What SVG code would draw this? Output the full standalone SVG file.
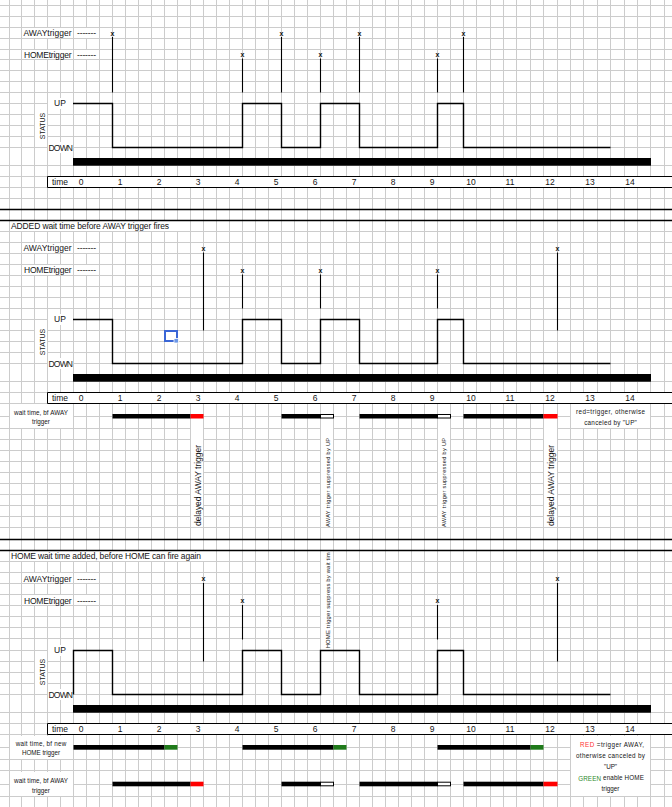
<svg xmlns="http://www.w3.org/2000/svg" width="672" height="807" viewBox="0 0 672 807">
<style>
.g{stroke:#cccccc;stroke-width:1;fill:none}
.w{fill:#fff}
.t{font-family:"Liberation Sans",Arial,sans-serif;font-size:8.5px;fill:#141414;dominant-baseline:central}
.st{font-family:"Liberation Sans",Arial,sans-serif;font-size:7px;fill:#141414;dominant-baseline:central;text-anchor:middle}
.s{font-family:"Liberation Sans",Arial,sans-serif;font-size:6.3px;fill:#141414;dominant-baseline:central;text-anchor:middle}
.x{font-family:"Liberation Sans",Arial,sans-serif;font-size:7px;font-weight:bold;fill:#111;dominant-baseline:central;text-anchor:middle}
.m{text-anchor:middle}
.wave{fill:none;stroke:#000;stroke-width:1.4}
.trig{stroke:#000;stroke-width:1.1;fill:none}
.sep{stroke:#000;stroke-width:1.4}
.blk{fill:#000}
.red{fill:#ff0000}
.grn{fill:#1f7a1a}
.wb{fill:#fff;stroke:#000;stroke-width:1}
</style>
<rect width="672" height="807" fill="#fff"/>
<g id="grid">
<path class="g" d="M9.5 0V807M21.5 0V807M34.5 0V807M47.5 0V807M60.5 0V807M73.5 0V807M86.5 0V807M99.5 0V807M112.5 0V807M125.5 0V807M138.5 0V807M151.5 0V807M164.5 0V807M177.5 0V807M190.5 0V807M203.5 0V807M216.5 0V807M229.5 0V807M242.5 0V807M255.5 0V807M268.5 0V807M281.5 0V807M294.5 0V807M307.5 0V807M320.5 0V807M333.5 0V807M346.5 0V807M359.5 0V807M372.5 0V807M385.5 0V807M398.5 0V807M411.5 0V807M424.5 0V807M437.5 0V807M450.5 0V807M463.5 0V807M476.5 0V807M490.5 0V807M503.5 0V807M516.5 0V807M530.5 0V807M543.5 0V807M557.5 0V807M570.5 0V807M583.5 0V807M597.5 0V807M610.5 0V807M624.5 0V807M637.5 0V807M650.5 0V807M664.5 0V807"/>
<path class="g" d="M0 5.5H672M0 16.5H672M0 27.5H672M0 38.5H672M0 49.5H672M0 59.5H672M0 70.5H672M0 81.5H672M0 92.5H672M0 103.5H672M0 114.5H672M0 125.5H672M0 136.5H672M0 147.5H672M0 165.5H672M0 176.5H672M0 187.5H672M0 198.5H672M0 231.5H672M0 242.5H672M0 253.5H672M0 264.5H672M0 275.5H672M0 286.5H672M0 297.5H672M0 308.5H672M0 319.5H672M0 330.5H672M0 341.5H672M0 352.5H672M0 363.5H672M0 381.5H672M0 392.5H672M0 403.5H672M0 416.5H672M0 428.5H672M0 439.5H672M0 450.5H672M0 461.5H672M0 472.5H672M0 483.5H672M0 494.5H672M0 505.5H672M0 516.5H672M0 527.5H672M0 561.5H672M0 572.5H672M0 583.5H672M0 594.5H672M0 605.5H672M0 616.5H672M0 627.5H672M0 638.5H672M0 650.5H672M0 661.5H672M0 672.5H672M0 683.5H672M0 694.5H672M0 712.5H672M0 723.5H672M0 734.5H672M0 747.5H672M0 759.5H672M0 770.5H672M0 784.5H672M0 796.5H672"/>
</g>
<g id="masks">
<rect class="w" x="22" y="28" width="51" height="10"/><rect class="w" x="74" y="28" width="25" height="10"/>
<rect class="w" x="22" y="50" width="51" height="9"/><rect class="w" x="74" y="50" width="25" height="9"/>
<rect class="w" x="35" y="105" width="12" height="42"/>
<rect class="w" x="48" y="98" width="25" height="11"/><rect class="w" x="48" y="142" width="25" height="11"/>
<rect class="w" x="10" y="221" width="168" height="10"/>
<rect class="w" x="22" y="243" width="51" height="10"/><rect class="w" x="74" y="243" width="25" height="10"/>
<rect class="w" x="22" y="265" width="51" height="10"/><rect class="w" x="74" y="265" width="25" height="10"/>
<rect class="w" x="35" y="321" width="12" height="42"/>
<rect class="w" x="48" y="314" width="25" height="11"/><rect class="w" x="48" y="358" width="25" height="11"/>
<rect class="w" x="10" y="404" width="63" height="24"/>
<rect class="w" x="571" y="404" width="79" height="24"/>
<rect class="w" x="191" y="419" width="12" height="108"/>
<rect class="w" x="321" y="419" width="12" height="108"/>
<rect class="w" x="438" y="419" width="12" height="108"/>
<rect class="w" x="544" y="419" width="13" height="108"/>
<rect class="w" x="10" y="551" width="200" height="10"/>
<rect class="w" x="321" y="551" width="12" height="99"/>
<rect class="w" x="22" y="573" width="51" height="10"/><rect class="w" x="74" y="573" width="25" height="10"/>
<rect class="w" x="22" y="595" width="51" height="10"/><rect class="w" x="74" y="595" width="25" height="10"/>
<rect class="w" x="35" y="652" width="12" height="42"/>
<rect class="w" x="48" y="645" width="25" height="11"/><rect class="w" x="48" y="689" width="25" height="11"/>
<rect class="w" x="10" y="736" width="63" height="23"/>
<rect class="w" x="10" y="772" width="63" height="24"/>
<rect class="w" x="571" y="736" width="79" height="60"/>
</g>
<g id="separators">
<line class="sep" x1="0" y1="209.5" x2="672" y2="209.5"/>
<line class="sep" x1="0" y1="220.5" x2="672" y2="220.5"/>
<line class="sep" x1="0" y1="539.5" x2="672" y2="539.5"/>
<line class="sep" x1="0" y1="550.5" x2="672" y2="550.5"/>
</g>
<g id="section1">
<text class="t" x="23.5" y="33" textLength="48">AWAYtrigger</text>
<text class="t" x="77" y="33" textLength="19">-------</text>
<text class="t" x="24" y="54.5" textLength="47.5">HOMEtrigger</text>
<text class="t" x="77" y="54.5" textLength="19">-------</text>
<text class="t m" x="60" y="103">UP</text>
<text class="t" x="48.5" y="147.5" textLength="24.5">DOWN</text>
<text class="st" transform="translate(42 126) rotate(-90)">STATUS</text>
<g class="x"><text x="112.5" y="33">x</text><text x="281.5" y="33">x</text><text x="359.5" y="33">x</text><text x="463.5" y="33">x</text><text x="242.5" y="54.5">x</text><text x="320.5" y="54.5">x</text><text x="437.5" y="54.5">x</text></g>
<path class="trig" d="M112.5 37V92.5M281.5 37V92.5M359.5 37V92.5M463.5 37V92.5M242.5 58.5V92.5M320.5 58.5V92.5M437.5 58.5V92.5"/>
<polyline class="wave" points="73,103.5 112.5,103.5 112.5,147.5 242.5,147.5 242.5,103.5 281.5,103.5 281.5,147.5 320.5,147.5 320.5,103.5 359.5,103.5 359.5,147.5 437.5,147.5 437.5,103.5 463.5,103.5 463.5,147.5 610.5,147.5"/>
<rect class="blk" x="73" y="158" width="578" height="7.7"/>
<rect class="w" x="47.5" y="176.5" width="625" height="11"/>
<path stroke="#000" stroke-width="1" fill="none" d="M672 176.5H47.5V187.5H672"/>
<g class="t m"><text x="60" y="182">time</text><text x="81" y="182">0</text><text x="120" y="182">1</text><text x="159" y="182">2</text><text x="198" y="182">3</text><text x="237" y="182">4</text><text x="276" y="182">5</text><text x="315" y="182">6</text><text x="354" y="182">7</text><text x="393" y="182">8</text><text x="432" y="182">9</text><text x="471" y="182">10</text><text x="510" y="182">11</text><text x="550" y="182">12</text><text x="590" y="182">13</text><text x="630" y="182">14</text></g>
</g>
<g id="section2">
<text class="t" x="11" y="226" textLength="158">ADDED wait time before AWAY trigger fires</text>
<text class="t" x="23.5" y="248" textLength="48">AWAYtrigger</text>
<text class="t" x="77" y="248" textLength="19">-------</text>
<text class="t" x="24" y="270" textLength="47.5">HOMEtrigger</text>
<text class="t" x="77" y="270" textLength="19">-------</text>
<text class="t m" x="60" y="319">UP</text>
<text class="t" x="48.5" y="364" textLength="24.5">DOWN</text>
<text class="st" transform="translate(42 342) rotate(-90)">STATUS</text>
<g class="x"><text x="203.5" y="248">x</text><text x="557.5" y="248">x</text><text x="242.5" y="270">x</text><text x="320.5" y="270">x</text><text x="437.5" y="270">x</text></g>
<path class="trig" d="M203.5 252.5V330.5M557.5 252.5V330.5M242.5 274.5V308.5M320.5 274.5V308.5M437.5 274.5V308.5"/>
<polyline class="wave" points="73,319.5 112.5,319.5 112.5,363.5 242.5,363.5 242.5,319.5 281.5,319.5 281.5,363.5 320.5,363.5 320.5,319.5 359.5,319.5 359.5,363.5 437.5,363.5 437.5,319.5 463.5,319.5 463.5,363.5 610.5,363.5"/>
<rect x="165" y="331" width="12" height="10" fill="none" stroke="#3a66d6" stroke-width="2"/>
<rect x="174" y="338.5" width="4.5" height="4.5" fill="#6c97e6" stroke="#fff" stroke-width="0.8"/>
<rect class="blk" x="73" y="374" width="578" height="7.7"/>
<rect class="w" x="47.5" y="392.5" width="625" height="11"/>
<path stroke="#000" stroke-width="1" fill="none" d="M672 392.5H47.5V403.5H672"/>
<g class="t m"><text x="60" y="398">time</text><text x="81" y="398">0</text><text x="120" y="398">1</text><text x="159" y="398">2</text><text x="198" y="398">3</text><text x="237" y="398">4</text><text x="276" y="398">5</text><text x="315" y="398">6</text><text x="354" y="398">7</text><text x="393" y="398">8</text><text x="432" y="398">9</text><text x="471" y="398">10</text><text x="510" y="398">11</text><text x="550" y="398">12</text><text x="590" y="398">13</text><text x="630" y="398">14</text></g>
<text class="s" x="41" y="412.5" textLength="54">wait time, bf AWAY</text>
<text class="s" x="41" y="421.5">trigger</text>
<rect class="blk" x="112.5" y="414" width="78" height="4.5"/><rect class="red" x="190.5" y="414" width="13" height="4.5"/>
<rect class="blk" x="281.5" y="414" width="39" height="4.5"/><rect class="wb" x="320.5" y="414.5" width="13" height="3.5"/>
<rect class="blk" x="359.5" y="414" width="78" height="4.5"/><rect class="wb" x="437.5" y="414.5" width="13" height="3.5"/>
<rect class="blk" x="463.5" y="414" width="80" height="4.5"/><rect class="red" x="543.5" y="414" width="14" height="4.5"/>
<text class="s" x="610.5" y="411.7" textLength="69">red=trigger, otherwise</text>
<text class="s" x="610.5" y="422.7" textLength="52.7">canceled by "UP"</text>
<text class="t m" transform="translate(197.5 485.5) rotate(-90)" textLength="81">delayed AWAY trigger</text>
<text class="t m" style="font-size:5.6px" transform="translate(327.5 482.5) rotate(-90)" textLength="89">AWAY trigger suppressed by UP</text>
<text class="t m" style="font-size:5.6px" transform="translate(444 482.5) rotate(-90)" textLength="89">AWAY trigger suppressed by UP</text>
<text class="t m" transform="translate(550.5 485.5) rotate(-90)" textLength="81">delayed AWAY trigger</text>
</g>
<g id="section3">
<text class="t" x="11" y="556" textLength="190">HOME wait time added, before HOME can fire again</text>
<text class="t" style="font-size:5.9px" transform="translate(327.5 648.3) rotate(-90)" textLength="96">HOME trigger suppress by wait tim</text>
<text class="t" x="23.5" y="578.5" textLength="48">AWAYtrigger</text>
<text class="t" x="77" y="578.5" textLength="19">-------</text>
<text class="t" x="24" y="600.5" textLength="47.5">HOMEtrigger</text>
<text class="t" x="77" y="600.5" textLength="19">-------</text>
<text class="t m" x="60" y="650">UP</text>
<text class="t" x="48.5" y="694.5" textLength="24.5">DOWN</text>
<text class="st" transform="translate(42 672) rotate(-90)">STATUS</text>
<g class="x"><text x="203.5" y="578.5">x</text><text x="557.5" y="578.5">x</text><text x="242.5" y="600.5">x</text><text x="437.5" y="600.5">x</text></g>
<path class="trig" d="M203.5 583V661.5M557.5 583V661.5M242.5 605V639.5M437.5 605V639.5"/>
<polyline class="wave" points="73.5,694.5 73.5,650.5 112.5,650.5 112.5,694.5 242.5,694.5 242.5,650.5 281.5,650.5 281.5,694.5 320.5,694.5 320.5,650.5 359.5,650.5 359.5,694.5 437.5,694.5 437.5,650.5 463.5,650.5 463.5,694.5 610.5,694.5"/>
<rect class="blk" x="73" y="705" width="578" height="7.7"/>
<rect class="w" x="47.5" y="723.5" width="625" height="11"/>
<path stroke="#000" stroke-width="1" fill="none" d="M672 723.5H47.5V734.5H672"/>
<g class="t m"><text x="60" y="729">time</text><text x="81" y="729">0</text><text x="120" y="729">1</text><text x="159" y="729">2</text><text x="198" y="729">3</text><text x="237" y="729">4</text><text x="276" y="729">5</text><text x="315" y="729">6</text><text x="354" y="729">7</text><text x="393" y="729">8</text><text x="432" y="729">9</text><text x="471" y="729">10</text><text x="510" y="729">11</text><text x="550" y="729">12</text><text x="590" y="729">13</text><text x="630" y="729">14</text></g>
<text class="s" x="41" y="743.3" textLength="50.7">wait time, bf new</text>
<text class="s" x="41" y="752.7" textLength="38">HOME trigger</text>
<rect class="blk" x="73.5" y="745" width="91" height="4.7"/><rect class="grn" x="164.5" y="745" width="13" height="4.7"/>
<rect class="blk" x="242.5" y="745" width="91" height="4.7"/><rect class="grn" x="333.5" y="745" width="13" height="4.7"/>
<rect class="blk" x="437.5" y="745" width="93" height="4.7"/><rect class="grn" x="530.5" y="745" width="13" height="4.7"/>
<text class="s" x="41" y="780.7" textLength="54">wait time, bf AWAY</text>
<text class="s" x="41" y="790">trigger</text>
<rect class="blk" x="112.5" y="781.7" width="78" height="4.6"/><rect class="red" x="190.5" y="781.7" width="13" height="4.6"/>
<rect class="blk" x="281.5" y="781.7" width="39" height="4.6"/><rect class="wb" x="320.5" y="782.2" width="13" height="3.6"/>
<rect class="blk" x="359.5" y="781.7" width="78" height="4.6"/><rect class="wb" x="437.5" y="782.2" width="13" height="3.6"/>
<rect class="blk" x="463.5" y="781.7" width="80" height="4.6"/><rect class="red" x="543.5" y="781.7" width="14" height="4.6"/>
<text class="s" x="612" y="744" textLength="64"><tspan fill="#ff3030">RED</tspan> =trigger AWAY,</text>
<text class="s" x="610.5" y="755.7" textLength="69">otherwise canceled by</text>
<text class="s" x="610.5" y="766">"UP"</text>
<text class="s" x="611" y="777.7" textLength="65.7"><tspan fill="#2e8b2e">GREEN</tspan>  enable HOME</text>
<text class="s" x="610.5" y="788.3">trigger</text>
</g>
</svg>
